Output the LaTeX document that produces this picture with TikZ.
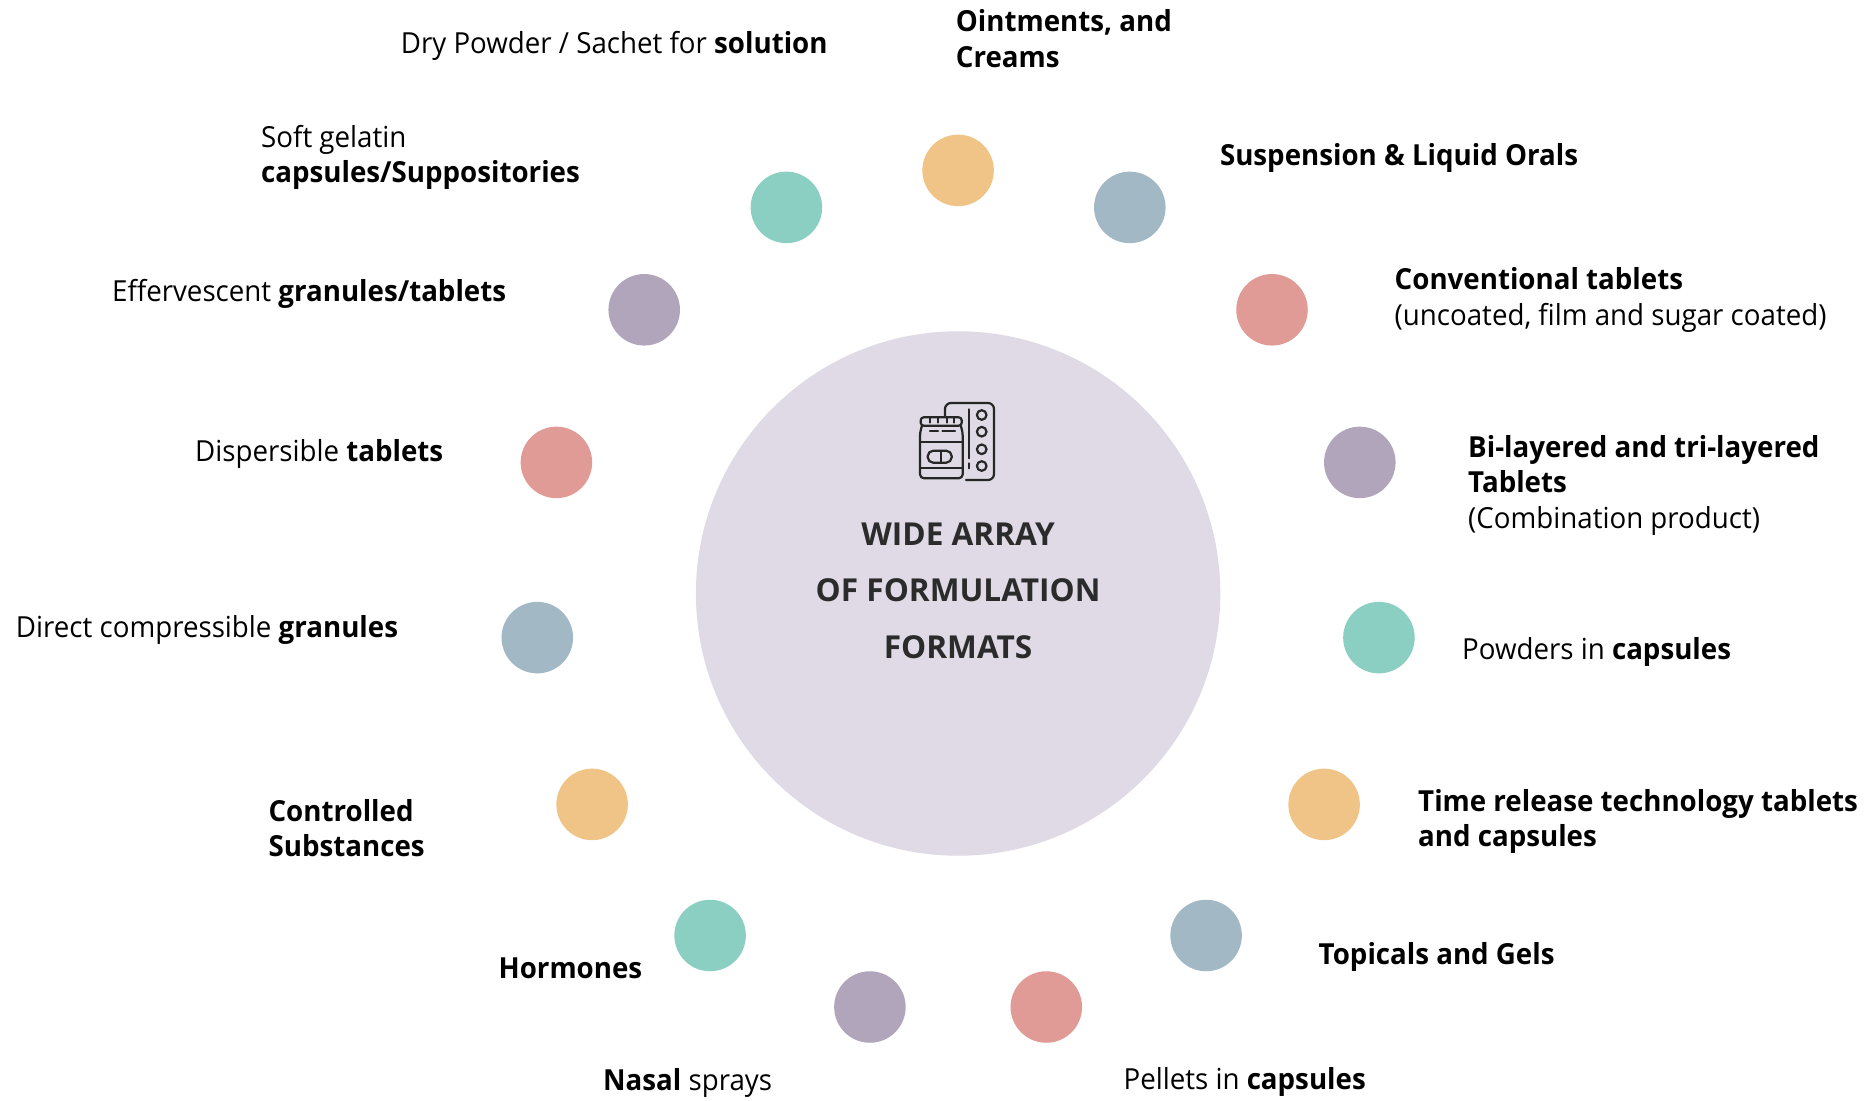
\documentclass[tikz,border=0pt]{standalone}
\usepackage{fontspec}
\setmainfont{Open Sans}[FakeStretch=0.955]
\newfontfamily\hubfamily{Open Sans}
\definecolor{corange}{HTML}{F0C487}
\definecolor{cblue}{HTML}{A2B8C5}
\definecolor{cred}{HTML}{E09B97}
\definecolor{cpurple}{HTML}{B0A5BB}
\definecolor{cteal}{HTML}{8BCFC2}
\definecolor{hubbg}{HTML}{DFDAE6}
\definecolor{hubtext}{HTML}{2B2B2B}
\newcommand\labfont{\fontsize{29}{35.5}\selectfont}
\newcommand\hubfont{\hubfamily\fontsize{31.6}{38}\selectfont\bfseries}
\begin{document}
\begin{tikzpicture}[x=1pt,y=-1pt,
  dot/.style={circle,inner sep=0pt,minimum size=71.5pt},
  lbl/.style={anchor=base west,inner sep=0pt,font=\labfont,text=black},
  hubline/.style={anchor=base,inner sep=0pt,font=\hubfont,text=hubtext},
  iconline/.style={line width=2.2pt,line cap=round,line join=round,draw=black!85}
]
\useasboundingbox[fill=white] (0,0) rectangle (1865,1100);

% central circle
\node[circle,fill=hubbg,inner sep=0pt,minimum size=524.4pt] (hub) at (958.1,593.5) {};
\node[hubline] (h1) at (958.1,545) {WIDE ARRAY};
\node[hubline] (h2) at (958.1,601.7) {OF FORMULATION};
\node[hubline] (h3) at (958.1,658.3) {FORMATS};

% icon
\begin{scope}[iconline]
  % blister card
  \draw[rounded corners=6pt] (966,480) -- (994,480) -- (994,403) -- (945,403) -- (945,416);
  \draw (969.3,409.3) -- (969.3,458.3);
  \draw (969.3,463.3) -- (969.3,468.3);
  \foreach \yy in {415,431.7,449.3,466} \draw (981.7,\yy) circle (4.8pt);
  % jar
  \draw[rounded corners=3pt] (920.7,425.7) rectangle (961.7,417.3);
  \foreach \xx in {930,938.3,946.7,954} \draw (\xx,417.3) -- (\xx,422.5);
  \draw[rounded corners=4pt] (922,425.7) -- (920,432) -- (920,478.3) -- (962.7,478.3) -- (962.7,432) -- (960.7,425.7);
  \draw (930,430.7) -- (938,430.7);
  \draw (942.5,430.7) -- (955,430.7);
  \draw (920,441.7) -- (962.7,441.7);
  \draw (920,468.3) -- (962.7,468.3);
  \draw[rounded corners=5.5pt] (927.7,450.7) rectangle (951.7,462.7);
  \draw (941,450.7) -- (941,462.7);
\end{scope}

% satellite dots
\node[dot,fill=corange] (c1) at (958.1,170.4) {};
\node[dot,fill=cblue]   (c2) at (1129.8,207.4) {};
\node[dot,fill=cred]    (c3) at (1272.0,309.8) {};
\node[dot,fill=cpurple] (c4) at (1359.8,462.4) {};
\node[dot,fill=cteal]   (c5) at (1378.9,637.6) {};
\node[dot,fill=corange] (c6) at (1324.1,804.4) {};
\node[dot,fill=cblue]   (c7) at (1206.1,935.5) {};
\node[dot,fill=cred]    (c8) at (1046.3,1007.0) {};
\node[dot,fill=cpurple] (c9) at (869.9,1007.0) {};
\node[dot,fill=cteal]   (c10) at (710.1,935.5) {};
\node[dot,fill=corange] (c11) at (592.1,804.4) {};
\node[dot,fill=cblue]   (c12) at (537.3,637.6) {};
\node[dot,fill=cred]    (c13) at (556.4,462.4) {};
\node[dot,fill=cpurple] (c14) at (644.2,309.8) {};
\node[dot,fill=cteal]   (c15) at (786.4,207.4) {};

% labels
\node[lbl] (l1a) at (955.7,31.7) {\textbf{Ointments, and}};
\node[lbl] (l1b) at (955.7,67.2) {\textbf{Creams}};
\node[lbl] (l2) at (1219.8,165.7) {\textbf{Suspension \& Liquid Orals}};
\node[lbl] (l3a) at (1394.5,289.3) {\textbf{Conventional tablets}};
\node[lbl] (l3b) at (1394.5,325) {(uncoated, film and sugar coated)};
\node[lbl] (l4a) at (1468,457) {\textbf{Bi-layered and tri-layered}};
\node[lbl] (l4b) at (1468,492.5) {\textbf{Tablets}};
\node[lbl] (l4c) at (1468,528) {(Combination product)};
\node[lbl] (l5) at (1462,659.3) {Powders in \textbf{capsules}};
\node[lbl] (l6a) at (1418,811.7) {\textbf{Time release technology tablets}};
\node[lbl] (l6b) at (1418,846.7) {\textbf{and capsules}};
\node[lbl] (l7) at (1318.5,964) {\textbf{Topicals and Gels}};
\node[lbl] (l8) at (1123.4,1089.3) {Pellets in \textbf{capsules}};
\node[lbl] (l9) at (603,1090.7) {\textbf{Nasal} sprays};
\node[lbl] (l10) at (498.4,978.3) {\textbf{Hormones}};
\node[lbl] (l11a) at (268.4,821.7) {\textbf{Controlled}};
\node[lbl] (l11b) at (268.4,856.7) {\textbf{Substances}};
\node[lbl] (l12) at (15.8,637.5) {Direct compressible \textbf{granules}};
\node[lbl] (l13) at (195,461.4) {Dispersible \textbf{tablets}};
\node[lbl] (l14) at (111.9,301.8) {Effervescent \textbf{granules/tablets}};
\node[lbl] (l15a) at (261,147.5) {Soft gelatin};
\node[lbl] (l15b) at (261,182.9) {\textbf{capsules/Suppositories}};
\node[lbl] (l16) at (400.7,53.3) {Dry Powder / Sachet for \textbf{solution}};
\end{tikzpicture}
\end{document}
